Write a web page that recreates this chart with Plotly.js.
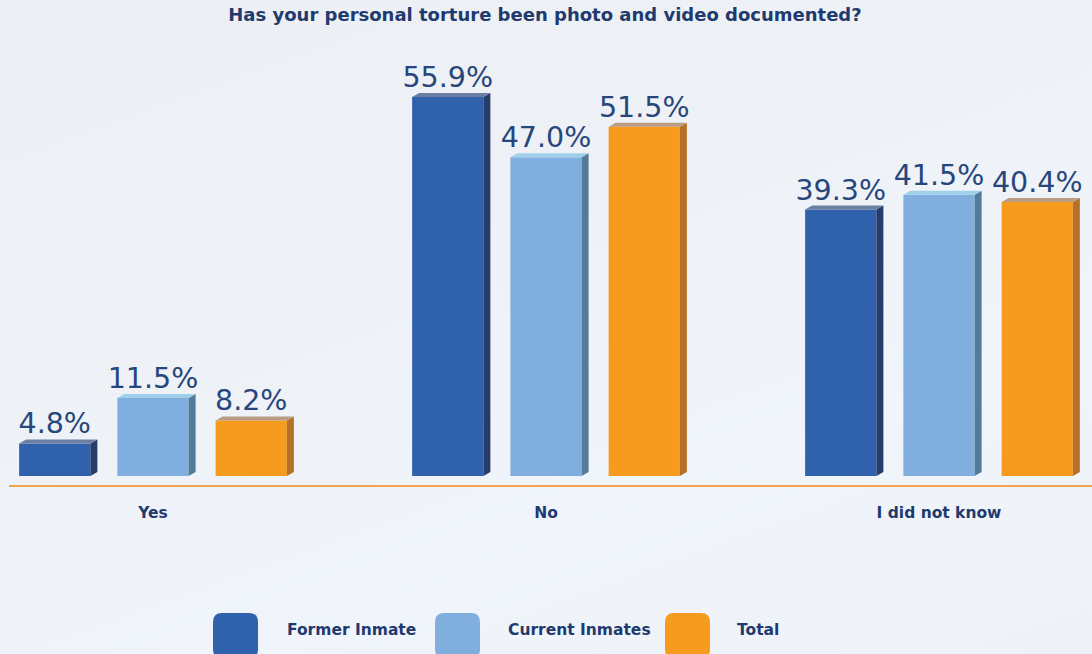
<!DOCTYPE html>
<html>
<head>
<meta charset="utf-8">
<script src="https://cdn.plot.ly/plotly-3.0.1.min.js"></script>
<style>
html,body{margin:0;padding:0;}
body{width:1092px;height:654px;background:linear-gradient(160deg,#eceef3 0%,#eef2f7 40%,#f0f5fb 70%,#eef2f7 100%);}
#chart{width:1092px;height:654px;}
</style>
</head>
<body>
<div id="chart"></div>
<script>
const categories = ['Yes', 'No', 'I did not know'];
const seriesNames = ['Former Inmate', 'Current Inmates', 'Total'];
const formerInmate = [4.8, 55.9, 39.3];
const currentInmates = [11.5, 47.0, 41.5];
const totalValues = [8.2, 51.5, 40.4];
const seriesValues = [formerInmate, currentInmates, totalValues];

const frontColors = ['#3061ad', '#80afdf', '#f79b1e'];
const sideColors = ['#263c6a', '#557b9b', '#b5712a'];
const topColors = ['#6c7fa2', '#9ed1e9', '#b99c82'];
const textColor = '#27477c';
const labelColor = '#1f3a6e';
const boldFont = 'DejaVu Sans';

const W = 1092, H = 654;
const mL = 9, mR = 0, mT = 50, mB = 654 - 485;
const plotW = W - mL - mR, plotH = H - mT - mB;
const pxPerCat = 393;
const xCenterFirst = 153;
const xMin = -(xCenterFirst - mL) / pxPerCat;
const xMax = xMin + plotW / pxPerCat;
const pxPerUnit = 6.78;
const yMin = -9 / pxPerUnit;
const yMax = yMin + plotH / pxPerUnit;

const bargap = 0.25, bargroupgap = 0.275;
const slot = (1 - bargap) / 3;
const barW = slot * (1 - bargroupgap);
const dx = 7 / pxPerCat, dy = 4 / pxPerUnit;

const xs = categories.map((c, i) => i);
const traces = seriesValues.map((vals, s) => ({
  type: 'bar',
  name: seriesNames[s],
  x: xs,
  y: vals,
  marker: {color: frontColors[s], line: {width: 0}},
  text: vals.map(v => v.toFixed(1) + '%'),
  textposition: 'outside',
  constraintext: 'none',
  cliponaxis: false,
  textfont: {family: 'DejaVu Sans', size: 28.5, color: textColor},
  hoverinfo: 'skip',
  showlegend: false
}));

const shapes = [];
seriesValues.forEach((vals, s) => {
  vals.forEach((v, c) => {
    const cx = c + (s - 1) * slot;
    const xl = cx - barW / 2, xr = cx + barW / 2;
    shapes.push({type: 'path', xref: 'x', yref: 'y', layer: 'above',
      path: `M${xr},0 L${xr + dx},${dy} L${xr + dx},${v + dy} L${xr},${v} Z`,
      fillcolor: sideColors[s], line: {width: 0}});
    shapes.push({type: 'path', xref: 'x', yref: 'y', layer: 'above',
      path: `M${xl},${v} L${xl + dx},${v + dy} L${xr + dx},${v + dy} L${xr},${v} Z`,
      fillcolor: topColors[s], line: {width: 0}});
  });
});

// legend (manual) in paper coords
const px2x = p => (p - mL) / plotW;
const px2y = p => (H - mB - p) / plotH;
const legendSquareX = [213, 435, 665];
const legendTextX = [285, 506, 735];
const sq = 45, r = 9;
const annotations = [];
seriesNames.forEach((name, s) => {
  const x0 = legendSquareX[s], x1 = x0 + sq, y0 = 613, y1 = y0 + sq;
  const P = (x, y) => `${px2x(x)},${px2y(y)}`;
  const path = `M${P(x0 + r, y0)} L${P(x1 - r, y0)} Q${P(x1, y0)} ${P(x1, y0 + r)} L${P(x1, y1 - r)} Q${P(x1, y1)} ${P(x1 - r, y1)} L${P(x0 + r, y1)} Q${P(x0, y1)} ${P(x0, y1 - r)} L${P(x0, y0 + r)} Q${P(x0, y0)} ${P(x0 + r, y0)} Z`;
  shapes.push({type: 'path', xref: 'paper', yref: 'paper', path: path,
    fillcolor: frontColors[s], line: {width: 0}});
  annotations.push({xref: 'paper', yref: 'paper', x: px2x(legendTextX[s]), y: px2y(630),
    xanchor: 'left', yanchor: 'middle', showarrow: false, text: name,
    font: {family: boldFont, size: 15.5, color: labelColor, weight: 'bold'}});
});

const layout = {
  width: W, height: H,
  margin: {l: mL, r: mR, t: mT, b: mB, pad: 0},
  paper_bgcolor: 'rgba(0,0,0,0)',
  plot_bgcolor: 'rgba(0,0,0,0)',
  barmode: 'group',
  bargap: bargap,
  bargroupgap: bargroupgap,
  title: {text: 'Has your personal torture been photo and video documented?',
    x: 545 / W, xref: 'container', y: 1 - 15 / H, yref: 'container', yanchor: 'middle', xanchor: 'center',
    font: {family: boldFont, size: 18, color: labelColor, weight: 'bold'}},
  xaxis: {type: 'linear', range: [xMin, xMax], tickvals: xs, ticktext: categories,
    showgrid: false, zeroline: false, showline: true, linecolor: '#f0a54a', linewidth: 2,
    ticks: 'outside', ticklen: 12, tickcolor: 'rgba(0,0,0,0)',
    tickfont: {family: boldFont, size: 15.5, color: labelColor, weight: 'bold'}, fixedrange: true},
  yaxis: {range: [yMin, yMax], visible: false, showgrid: false, zeroline: false, fixedrange: true},
  shapes: shapes,
  annotations: annotations,
  showlegend: false
};

Plotly.newPlot('chart', traces, layout, {displayModeBar: false, staticPlot: true});
</script>
</body>
</html>
